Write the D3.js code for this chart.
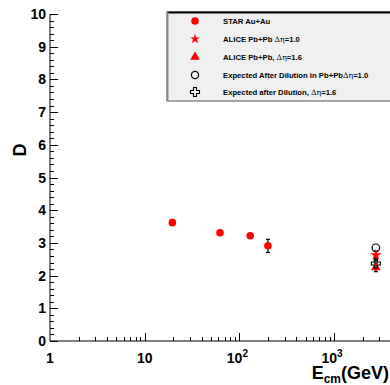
<!DOCTYPE html>
<html><head><meta charset="utf-8">
<script src="https://cdn.jsdelivr.net/npm/d3@7"></script>
<style>body{margin:0;background:#fff}svg{display:block;font-family:"Liberation Sans",Arial,sans-serif;font-weight:bold}</style>
</head><body>
<svg id="c" width="390" height="385"></svg>
<script>
const starEnergy = [19.6, 62.4, 130, 200];
const starD = [3.62, 3.31, 3.22, 2.91];
const starErr = [0, 0, 0, 0.2];
const aliceEnergy = [2760];
const alice10D = [2.63];
const alice10Err = [0.12];
const alice16D = [2.25];
const alice16Err = [0.13];
const dil10D = [2.85];
const dil16D = [2.37];
const dil16Err = [0.1];
const yTicks = [0,1,2,3,4,5,6,7,8,9,10];
const xTickLabels = [{v:1,t:"1"},{v:10,t:"10"},{v:100,t:"10",s:"2"},{v:1000,t:"10",s:"3"}];
const legendLabels = [["STAR Au+Au"],["ALICE Pb+Pb ","\u0394\u03b7","=1.0"],["ALICE Pb+Pb, ","\u0394\u03b7","=1.6"],["Expected After Dilution in Pb+Pb","\u0394\u03b7","=1.0"],["Expected after Dilution, ","\u0394\u03b7","=1.6"]];

const svg = d3.select("#c");
const x = d3.scaleLog().domain([1, 5000]).range([50, 400.3]);
const y = d3.scaleLinear().domain([0, 10]).range([341, 14]);

// axes lines
svg.append("line").attr("x1",50).attr("x2",390).attr("y1",341).attr("y2",341).attr("stroke","#000");
svg.append("line").attr("x1",50).attr("x2",50).attr("y1",14).attr("y2",341).attr("stroke","#000");

// y ticks
const yMinor = d3.range(0, 10.001, 0.2);
svg.append("g").selectAll("line").data(yMinor).join("line")
  .attr("x1",50).attr("x2",d=>Math.abs(d-Math.round(d))<1e-6?58:54)
  .attr("y1",d=>Math.round(y(d))+0.5).attr("y2",d=>Math.round(y(d))+0.5).attr("stroke","#000");
svg.append("g").selectAll("text").data(yTicks).join("text")
  .attr("x",46).attr("y",d=>y(d)+5).attr("text-anchor","end").attr("font-size",14).text(d=>d);

// x ticks
const xMinor = [];
for (let dec=1; dec<=1000; dec*=10) for (let k=1;k<10;k++) if (dec*k<=5000) xMinor.push(dec*k);
xMinor.push(5000);
svg.append("g").selectAll("line").data(xMinor.filter(v=>v>1 && x(v)<390)).join("line")
  .attr("x1",d=>Math.round(x(d))+0.5).attr("x2",d=>Math.round(x(d))+0.5)
  .attr("y1",341).attr("y2",d=>[10,100,1000].includes(d)?333:337).attr("stroke","#000");
const xl = svg.append("g").selectAll("text").data(xTickLabels).join("text")
  .attr("x",d=>x(d.v) + (d.s?-2:0)).attr("y",363).attr("text-anchor","middle").attr("font-size",14);
xl.append("tspan").text(d=>d.t);
xl.filter(d=>d.s).append("tspan").attr("dy",-6).attr("font-size",10).text(d=>d.s);

// axis titles
svg.append("text").attr("transform","translate(26,150) rotate(-90)").attr("text-anchor","middle").attr("font-size",18).text("D");
const xt = svg.append("text").attr("x",389).attr("y",379).attr("text-anchor","end").attr("font-size",18);
xt.append("tspan").text("E");
xt.append("tspan").attr("dy",4).attr("font-size",12).text("cm");
xt.append("tspan").attr("dy",-4).text("(GeV)");

// marker helpers
const starPath = d3.symbol().type(d3.symbolStar).size(40)();
const triPath = d3.symbol().type(d3.symbolTriangle).size(40)();
const crossPath = "M-1.5,-4.5H1.5V-1.5H4.5V1.5H1.5V4.5H-1.5V1.5H-4.5V-1.5H-1.5Z";
function errBar(g, xv, yv, e){
  if(!e) return;
  const cx = x(xv);
  g.append("line").attr("x1",cx).attr("x2",cx).attr("y1",y(yv-e)).attr("y2",y(yv+e)).attr("stroke","#000").attr("stroke-width",1.2);
  [yv-e,yv+e].forEach(v=>g.append("line").attr("x1",cx-2).attr("x2",cx+2).attr("y1",y(v)).attr("y2",y(v)).attr("stroke","#000").attr("stroke-width",1.2));
}
const gp = svg.append("g");
starEnergy.forEach((e,i)=>errBar(gp,e,starD[i],starErr[i]));
aliceEnergy.forEach((e,i)=>{errBar(gp,e,alice10D[i],alice10Err[i]);errBar(gp,e,alice16D[i],alice16Err[i]);errBar(gp,e,dil16D[i],dil16Err[i]);});
gp.selectAll("circle.star").data(starEnergy).join("circle").attr("class","star")
  .attr("cx",d=>x(d)).attr("cy",(d,i)=>y(starD[i])).attr("r",3.8).attr("fill","#ff0000");
gp.selectAll("circle.dil").data(aliceEnergy).join("circle").attr("class","dil")
  .attr("cx",d=>x(d)).attr("cy",(d,i)=>y(dil10D[i])).attr("r",3.8).attr("fill","none").attr("stroke","#000").attr("stroke-width",1.2);
gp.selectAll("path.a10").data(aliceEnergy).join("path").attr("class","a10")
  .attr("d",starPath).attr("transform",(d,i)=>`translate(${x(d)},${y(alice10D[i])})`).attr("fill","#ff0000");
gp.selectAll("path.a16").data(aliceEnergy).join("path").attr("class","a16")
  .attr("d",triPath).attr("transform",(d,i)=>`translate(${x(d)},${y(alice16D[i])})`).attr("fill","#ff0000");
gp.selectAll("path.d16").data(aliceEnergy).join("path").attr("class","d16")
  .attr("d",crossPath).attr("transform",(d,i)=>`translate(${x(d)},${y(dil16D[i])})`).attr("fill","none").attr("stroke","#000").attr("stroke-width",1.1);

// legend
const lg = svg.append("g");
lg.append("rect").attr("x",167).attr("y",12).attr("width",224).attr("height",89).attr("fill","#f0f0f0").attr("stroke","#555").attr("stroke-width",1);
lg.append("line").attr("x1",167).attr("x2",391).attr("y1",12.5).attr("y2",12.5).attr("stroke","#000").attr("stroke-width",2);
lg.append("line").attr("x1",167.5).attr("x2",167.5).attr("y1",12).attr("y2",101).attr("stroke","#888").attr("stroke-width",2);
const ly = [21, 39, 57, 75, 92];
lg.append("circle").attr("cx",195).attr("cy",ly[0]).attr("r",3.8).attr("fill","#ff0000");
lg.append("path").attr("d",d3.symbol().type(d3.symbolStar).size(30)()).attr("transform",`translate(195,${ly[1]})`).attr("fill","#ff0000");
lg.append("path").attr("d",d3.symbol().type(d3.symbolTriangle).size(40)()).attr("transform",`translate(195,${ly[2]})`).attr("fill","#ff0000");
lg.append("circle").attr("cx",195).attr("cy",ly[3]).attr("r",3.6).attr("fill","none").attr("stroke","#000").attr("stroke-width",1.2);
lg.append("path").attr("d",crossPath).attr("transform",`translate(195,${ly[4]})`).attr("fill","none").attr("stroke","#000").attr("stroke-width",1.1);
const lt = lg.selectAll("text").data(legendLabels).join("text").attr("x",223).attr("y",(d,i)=>ly[i]+2.5)
  .attr("font-size",7.7);
lt.each(function(parts){
  const t = d3.select(this);
  parts.forEach((p,j)=>t.append("tspan").attr("font-weight", j===1?"normal":"bold").attr("font-family", j===1?"'DejaVu Serif',serif":null).text(p));
});
</script>
</body></html>
